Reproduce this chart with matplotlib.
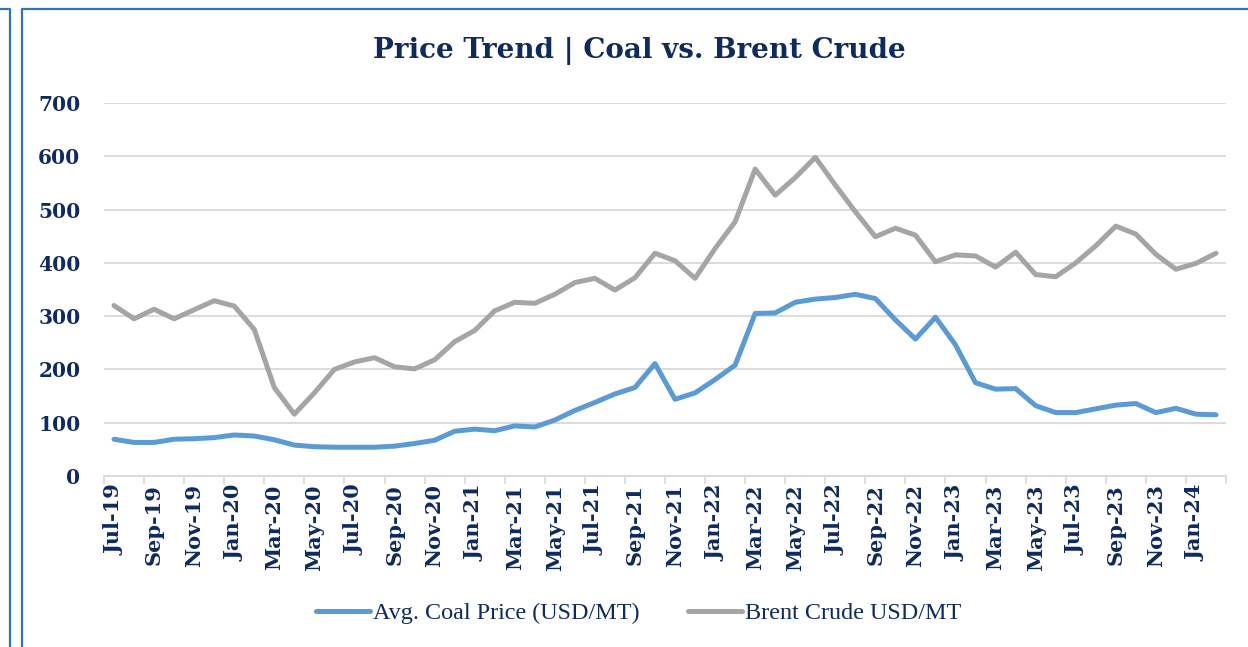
import numpy as np
import matplotlib.pyplot as plt
from matplotlib.lines import Line2D
from matplotlib.ticker import FixedLocator

# Monthly data, Jul-19 .. Feb-24
months = [
    "Jul-19", "Aug-19", "Sep-19", "Oct-19", "Nov-19", "Dec-19",
    "Jan-20", "Feb-20", "Mar-20", "Apr-20", "May-20", "Jun-20",
    "Jul-20", "Aug-20", "Sep-20", "Oct-20", "Nov-20", "Dec-20",
    "Jan-21", "Feb-21", "Mar-21", "Apr-21", "May-21", "Jun-21",
    "Jul-21", "Aug-21", "Sep-21", "Oct-21", "Nov-21", "Dec-21",
    "Jan-22", "Feb-22", "Mar-22", "Apr-22", "May-22", "Jun-22",
    "Jul-22", "Aug-22", "Sep-22", "Oct-22", "Nov-22", "Dec-22",
    "Jan-23", "Feb-23", "Mar-23", "Apr-23", "May-23", "Jun-23",
    "Jul-23", "Aug-23", "Sep-23", "Oct-23", "Nov-23", "Dec-23",
    "Jan-24", "Feb-24",
]

coal = [
    69, 63, 63, 69, 70, 72,
    77, 75, 68, 58, 55, 54, 54, 54, 56, 61, 67, 84,
    88, 85, 94, 92, 105, 123, 138, 154, 166, 211, 144, 156,
    181, 208, 305, 306, 326, 332, 335, 341, 333, 293, 257, 298,
    246, 175, 163, 164, 132, 119, 119, 126, 133, 136, 119, 127,
    116, 115,
]

brent = [
    320, 295, 313, 295, 312, 329,
    319, 275, 166, 116, 156, 200, 214, 222, 205, 201, 218, 252,
    273, 310, 326, 324, 341, 363, 371, 349, 372, 418, 404, 371,
    427, 477, 576, 527, 560, 598, 546, 496, 449, 465, 452, 402,
    415, 413, 392, 420, 378, 374, 400, 432, 469, 454, 416, 388,
    399, 418,
]

navy = "#0E2A5E"
blue = "#5B9BD5"
grey = "#A5A5A5"
grid = "#D9D9D9"

fig = plt.figure(figsize=(12.48, 6.47), dpi=100)
ax = fig.add_axes([104/1248, 1 - 476/647, 1122/1248, 373/647])

x = np.arange(len(months))
ax.plot(x, coal, color=blue, lw=3.6, solid_joinstyle="round", solid_capstyle="round",
        label="Avg. Coal Price (USD/MT)", zorder=3)
ax.plot(x, brent, color=grey, lw=3.6, solid_joinstyle="round", solid_capstyle="round",
        label="Brent Crude USD/MT", zorder=3)

ax.set_xlim(-0.5, len(months) - 0.5)
ax.set_ylim(0, 700)
ax.set_yticks(range(0, 701, 100))
ax.yaxis.grid(True, color=grid, lw=1.3)
ax.set_axisbelow(True)

ax.set_xticks(x[::2])
ax.set_xticklabels(months[::2], rotation=90)
ax.xaxis.set_minor_locator(FixedLocator(np.arange(-0.5, len(months), 2)))
ax.tick_params(axis="x", which="major", length=0, pad=6)
ax.tick_params(axis="x", which="minor", length=6, width=1.2, color=grid)
ax.tick_params(axis="y", length=0, pad=17)

for lab in ax.get_xticklabels() + ax.get_yticklabels():
    lab.set_fontfamily("DejaVu Serif")
    lab.set_fontweight("bold")
    lab.set_color(navy)
for lab in ax.get_xticklabels():
    lab.set_fontsize(15)
for lab in ax.get_yticklabels():
    lab.set_fontsize(14.5)

for s in ["top", "right", "left"]:
    ax.spines[s].set_visible(False)
ax.spines["bottom"].set_color(grid)
ax.spines["bottom"].set_linewidth(1.3)

fig.text(0.512, 1 - 51/647, "Price Trend | Coal vs. Brent Crude", ha="center", va="center",
         fontfamily="DejaVu Serif", fontweight="bold", fontsize=20, color=navy)

leg = fig.legend(loc="center", bbox_to_anchor=(0.5115, 1 - 613/647), ncol=2, frameon=False,
                 handlelength=2.25, handletextpad=0.12, columnspacing=2.0,
                 prop={"family": "Liberation Serif", "size": 17.4})
for t in leg.get_texts():
    t.set_color(navy)

# panel borders
bc = "#2E75B6"
fig.add_artist(Line2D([22/1248, 22/1248, 1], [0, 1 - 9/647, 1 - 9/647], color=bc, lw=1.6,
                      transform=fig.transFigure))
fig.add_artist(Line2D([0, 10/1248, 10/1248], [1 - 9/647, 1 - 9/647, 0], color=bc, lw=1.6,
                      transform=fig.transFigure))

fig.savefig("out.png", dpi=100)
